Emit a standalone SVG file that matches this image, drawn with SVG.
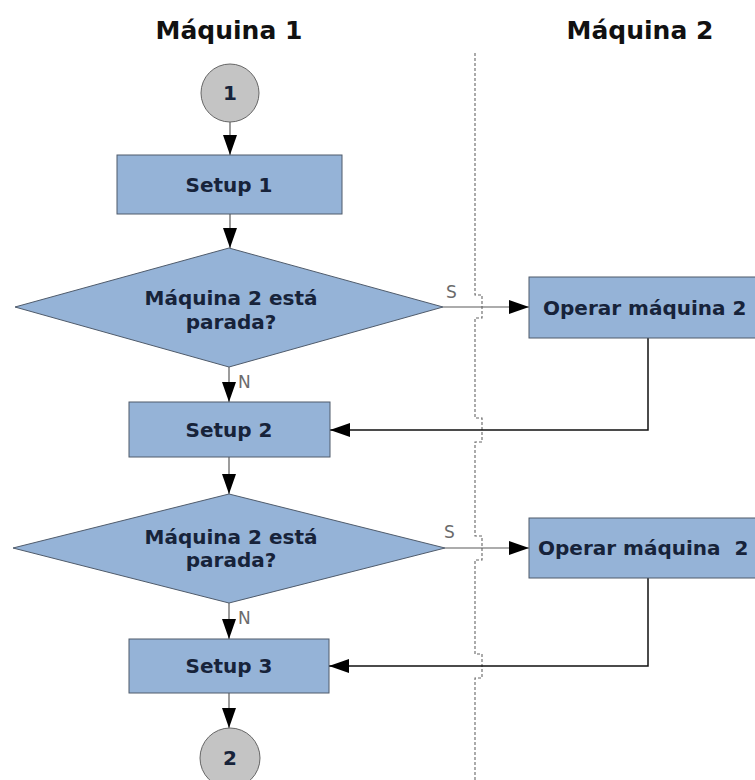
<svg xmlns="http://www.w3.org/2000/svg" width="755" height="780" viewBox="0 0 755 780">
<style>
.box{fill:#95b3d7;stroke:#4f5b6b;stroke-width:1}
.dia{fill:#95b3d7;stroke:#4f5b6b;stroke-width:1}
.circ{fill:#c4c4c4;stroke:#666;stroke-width:1}
.t{font-family:"DejaVu Sans",Verdana,sans-serif;font-weight:bold;font-size:20px;fill:#17233a;text-anchor:middle}
.title{font-family:"DejaVu Sans",Verdana,sans-serif;font-weight:bold;font-size:25px;fill:#111;text-anchor:middle}
.lbl{font-family:"DejaVu Sans",Verdana,sans-serif;font-size:17px;fill:#6b6b6b}
.ln{fill:none;stroke:#5a5a5a;stroke-width:1.2}
.ret{fill:none;stroke:#111;stroke-width:1.5}
.sep{fill:none;stroke:#666;stroke-width:1.1;stroke-dasharray:3 2}
</style>
<defs>
<marker id="ah" markerUnits="userSpaceOnUse" markerWidth="20" markerHeight="14" refX="20" refY="7" orient="auto">
<path d="M0,0 L20,7 L0,14 z" fill="#000"/>
</marker>
</defs>
<rect width="755" height="780" fill="#fff"/>
<g id="titles">
<text class="title" x="229" y="39">Máquina 1</text>
<text class="title" x="640" y="39">Máquina 2</text>
</g>
<path id="separator" class="sep" d="M475,53 V295 H482 V318 H475 V418 H482 V442 H475 V536 H482 V560 H475 V654 H482 V678 H475 V780"/>
<g id="connectors">
<path class="ln" d="M230,122 V155" marker-end="url(#ah)"/>
<path class="ln" d="M230,214 V248" marker-end="url(#ah)"/>
<path class="ln" d="M229,367 V402" marker-end="url(#ah)"/>
<path class="ln" d="M443,307 H529" marker-end="url(#ah)"/>
<path class="ret" d="M648,338 V430 H330" marker-end="url(#ah)"/>
<path class="ln" d="M229,457 V494" marker-end="url(#ah)"/>
<path class="ln" d="M445,548 H529" marker-end="url(#ah)"/>
<path class="ln" d="M229,603 V639" marker-end="url(#ah)"/>
<path class="ret" d="M648,578 V666 H329" marker-end="url(#ah)"/>
<path class="ln" d="M229,693 V728" marker-end="url(#ah)"/>
<text class="lbl" x="446" y="298">S</text>
<text class="lbl" x="238" y="388">N</text>
<text class="lbl" x="444" y="538">S</text>
<text class="lbl" x="238" y="624">N</text>
</g>
<g id="start1">
<circle class="circ" cx="230" cy="93" r="29"/>
<text class="t" x="230" y="100">1</text>
</g>
<g id="setup1">
<rect class="box" x="117" y="155" width="225" height="59"/>
<text class="t" x="229" y="192">Setup 1</text>
</g>
<g id="decision1">
<polygon class="dia" points="229,248 443,307 229,367 15,307"/>
<text class="t" x="231" y="305">Máquina 2 está</text>
<text class="t" x="231" y="329">parada?</text>
</g>
<g id="operar1">
<rect class="box" x="529" y="277" width="240" height="61"/>
<text class="t" x="543" y="315" style="text-anchor:start">Operar máquina 2</text>
</g>
<g id="setup2">
<rect class="box" x="129" y="402" width="201" height="55"/>
<text class="t" x="229" y="437">Setup 2</text>
</g>
<g id="decision2">
<polygon class="dia" points="229,494 445,548 229,603 13,548"/>
<text class="t" x="231" y="544">Máquina 2 está</text>
<text class="t" x="231" y="567">parada?</text>
</g>
<g id="operar2">
<rect class="box" x="529" y="518" width="240" height="60"/>
<text class="t" x="538" y="555" style="text-anchor:start" xml:space="preserve">Operar máquina  2</text>
</g>
<g id="setup3">
<rect class="box" x="129" y="639" width="200" height="54"/>
<text class="t" x="229" y="673">Setup 3</text>
</g>
<g id="end2">
<circle class="circ" cx="230" cy="758" r="30"/>
<text class="t" x="230" y="765">2</text>
</g>
</svg>
